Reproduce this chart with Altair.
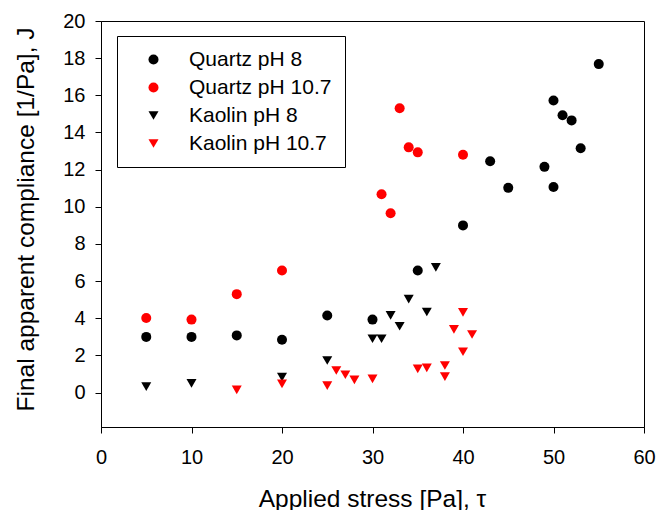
import altair as alt
import pandas as pd

series_names = ["Quartz pH 8", "Quartz pH 10.7", "Kaolin pH 8", "Kaolin pH 10.7"]

quartz8_x = [5, 10, 15, 20, 25, 30, 35, 40, 43, 45, 49, 50, 50, 51, 52, 53, 55]
quartz8_y = [3.0, 3.0, 3.08, 2.85, 4.15, 3.93, 6.57, 9.0, 12.45, 11.02, 12.15, 15.72, 11.07, 14.93, 14.65, 13.15, 17.68]

quartz107_x = [5, 10, 15, 20, 31, 32, 33, 34, 35, 40]
quartz107_y = [4.02, 3.93, 5.3, 6.57, 10.68, 9.65, 15.3, 13.2, 12.93, 12.8]

kaolin8_x = [5, 10, 20, 25, 30, 31, 32, 33, 34, 36, 37]
kaolin8_y = [0.32, 0.5, 0.83, 1.73, 2.9, 2.9, 4.16, 3.57, 5.03, 4.34, 6.74]

kaolin107_x = [15, 20, 25, 26, 27, 28, 30, 35, 36, 38, 38, 39, 40, 40, 41]
kaolin107_y = [0.15, 0.47, 0.38, 1.19, 0.96, 0.69, 0.74, 1.28, 1.33, 1.46, 0.86, 3.4, 4.32, 2.2, 3.13]

x_ticks = [0, 10, 20, 30, 40, 50, 60]
y_ticks = [0, 2, 4, 6, 8, 10, 12, 14, 16, 18, 20]

rows = []
for name, xs, ys in zip(series_names,
                        [quartz8_x, quartz107_x, kaolin8_x, kaolin107_x],
                        [quartz8_y, quartz107_y, kaolin8_y, kaolin107_y]):
    for xv, yv in zip(xs, ys):
        rows.append({"series": name, "stress": xv, "comp": yv})
df = pd.DataFrame(rows)
df["order"] = range(len(df))

FONT = "Liberation Sans"

color_scale = alt.Scale(domain=series_names, range=["#000000", "#ff0000", "#000000", "#ff0000"])
shape_scale = alt.Scale(domain=series_names, range=["circle", "circle", "triangle-down", "triangle-down"])
size_scale = alt.Scale(domain=series_names, range=[100, 100, 125, 125])

chart = alt.Chart(df).mark_point(filled=True, opacity=1).encode(
    x=alt.X("stress:Q",
            scale=alt.Scale(domain=[0, 60], nice=False, zero=False),
            axis=alt.Axis(values=x_ticks, title="Applied stress [Pa], τ",
                          labelBaseline="alphabetic", labelPadding=30, labelFlush=False,
                          titleX=271, titleY=79, titleBaseline="alphabetic",
                          titleAlign="center")),
    y=alt.Y("comp:Q",
            scale=alt.Scale(domain=[-1.85, 20], nice=False, zero=False),
            axis=alt.Axis(values=y_ticks, title="Final apparent compliance [1/Pa], J",
                          labelPadding=10, labelFlush=False,
                          titleAngle=-90, titleX=-68, titleY=198,
                          titleBaseline="alphabetic", titleAlign="center")),
    color=alt.Color("series:N", scale=color_scale, title=None),
    shape=alt.Shape("series:N", scale=shape_scale, title=None),
    size=alt.Size("series:N", scale=size_scale, title=None),
    order=alt.Order("order:Q"),
).properties(
    width=543, height=406,
    autosize="none",
    padding={"left": 101, "top": 21, "right": 13, "bottom": 83},
).configure_view(
    stroke="#000000", strokeWidth=1
).configure_axis(
    grid=False, domainColor="#000000", tickColor="#000000", tickSize=6,
    labelColor="#000000", titleColor="#000000",
    labelFont=FONT, titleFont=FONT, labelFontSize=20, titleFontSize=24.5,
    titleFontWeight="normal", domainWidth=1, tickWidth=1,
).configure_legend(
    orient="none", legendX=16, legendY=15,
    strokeColor="#000000", strokeWidth=1, fillColor="#ffffff",
    padding=13, labelFont=FONT, labelFontSize=21, labelColor="#000000",
    symbolOffset=13, labelOffset=25, rowPadding=6,
    symbolStrokeWidth=0,
)

chart.save("out.html", embed_options={"renderer": "svg", "actions": False})
